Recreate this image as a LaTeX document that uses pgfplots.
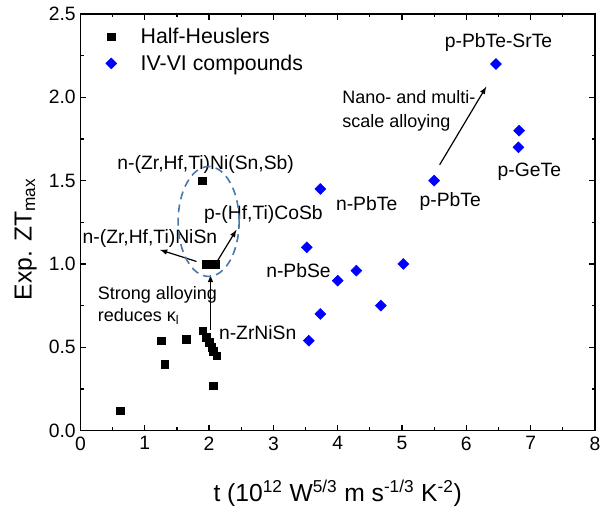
\documentclass[border=0pt]{standalone}
\usepackage{fontspec}
\setmainfont{Liberation Sans}
\usepackage{pgfplots}
\pgfplotsset{compat=1.18}
\definecolor{ellblue}{HTML}{4A78A8}
\begin{document}
\begin{tikzpicture}
\useasboundingbox (-60.375pt,-56.25pt) rectangle (391.5pt,323.25pt);
\begin{axis}[
    scale only axis,
    width=386.25pt, height=312.75pt,
    xmin=0, xmax=8, ymin=0, ymax=2.5,
    xtick={0,1,...,8},
    ytick={0,0.5,...,2.5},
    minor x tick num=1,
    minor y tick num=1,
    tick align=inside,
    major tick length=4.5pt,
    minor tick length=2.5pt,
    axis line style={line width=1.1pt},
    every tick/.style={line width=0.9pt, black},
    /pgf/number format/assume math mode=true,
    ticklabel style={font=\fontsize{14.5}{16}\selectfont},
    xticklabel style={yshift=-1pt},
    yticklabel style={/pgf/number format/fixed, /pgf/number format/fixed zerofill, /pgf/number format/precision=1},
    xlabel={t (10\textsuperscript{12} W\textsuperscript{5/3} m s\textsuperscript{-1/3} K\textsuperscript{-2})},
    ylabel={Exp. ZT\textsubscript{max}},
    label style={font=\fontsize{18.5}{22}\selectfont},
    xlabel style={at={(axis description cs:0.5,-0.1695)}, anchor=base},
    ylabel style={at={(axis description cs:-0.0948,0.459)}, anchor=base},
    legend style={at={(axis description cs:0.041,0.98)}, anchor=north west, draw=none, fill=none,
        font=\fontsize{16}{19}\selectfont, row sep=3pt,
        /tikz/every odd column/.append style={column sep=16pt}},
    legend cell align=left,
]
\addplot[only marks, mark=square*, mark size=2.9pt, black] coordinates {
    (0.62,0.12) (1.26,0.54) (1.31,0.40) (1.65,0.55) (1.90,0.60) (1.96,0.56)
    (2.00,0.53) (2.04,0.50) (2.07,0.475) (2.12,0.45) (2.06,0.27) (1.89,1.50)
    (1.95,1.00) (2.02,1.00) (2.10,1.00)
};
\addlegendentry{Half-Heuslers}
\addplot[only marks, mark=square*, mark size=2.9pt, mark options={rotate=45}, color=blue] coordinates {
    (6.46,2.20) (6.82,1.80) (6.81,1.70) (5.50,1.50) (3.73,1.45) (3.52,1.10)
    (5.02,1.00) (4.29,0.96) (4.00,0.90) (4.67,0.75) (3.73,0.70) (3.55,0.54)
};
\addlegendentry{IV-VI compounds}

% annotations
\begin{scope}[every node/.style={font=\fontsize{14.5}{18}\selectfont, inner sep=0pt}]
\node at (axis cs:6.50,2.33) {p-PbTe-SrTe};
\node[anchor=west, align=left, font=\fontsize{13.5}{18.3}\selectfont] at (axis cs:4.07,1.92) {Nano- and multi-\\scale alloying};
\node at (axis cs:6.98,1.555) {p-GeTe};
\node at (axis cs:5.75,1.375) {p-PbTe};
\node at (axis cs:4.45,1.365) {n-PbTe};
\node at (axis cs:3.39,0.96) {n-PbSe};
\node at (axis cs:1.947,1.595) {n-(Zr,Hf,Ti)Ni(Sn,Sb)};
\node at (axis cs:2.845,1.295) {p-(Hf,Ti)CoSb};
\node at (axis cs:1.08,1.155) {n-(Zr,Hf,Ti)NiSn};
\node[anchor=west] at (axis cs:2.151,0.59) {n-ZrNiSn};
\node[anchor=west, align=left, font=\fontsize{13.5}{16.3}\selectfont] at (axis cs:0.267,0.75) {Strong alloying\\reduces κ\textsubscript{l}};
\end{scope}
\draw[-latex, line width=0.9pt] (axis cs:5.585,1.595) -- (axis cs:6.31,2.064);
\draw[-latex, line width=0.9pt] (axis cs:1.805,1.015) -- (axis cs:1.235,1.085);
\draw[-latex, line width=0.9pt] (axis cs:2.125,1.015) -- (axis cs:2.426,1.205);
\draw[-latex, line width=0.9pt] (axis cs:2.022,0.605) -- (axis cs:2.022,0.935);
\draw[ellblue, line width=1.2pt, dash pattern=on 6pt off 4pt] (axis cs:1.993,1.255) ellipse [x radius=22.9pt, y radius=41.25pt];
\end{axis}
\end{tikzpicture}
\end{document}
